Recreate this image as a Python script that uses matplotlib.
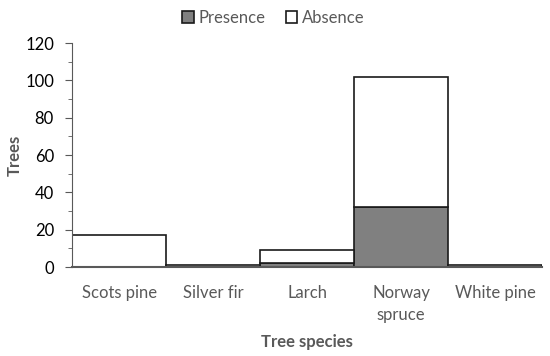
import matplotlib.pyplot as plt
import numpy as np
from matplotlib.ticker import MultipleLocator

species = ['Scots pine', 'Silver fir', 'Larch', 'Norway\nspruce', 'White pine']
presence = [0, 0, 2, 32, 0]
absence = [17, 1, 7, 70, 1]

plt.rcParams['font.family'] = ['Lato', 'DejaVu Sans']
grey = '#595959'

fig = plt.figure(figsize=(5.5, 3.56), dpi=100)
ax = fig.add_axes([0.131, 0.25, 0.855, 0.629])

x = np.arange(len(species))
ax.bar(x, presence, width=1.0, color='#808080', edgecolor='#1a1a1a', linewidth=1.2, label='Presence')
ax.bar(x, absence, width=1.0, bottom=presence, color='white', edgecolor='#1a1a1a', linewidth=1.2, label='Absence')

ax.set_xlim(-0.5, len(species) - 0.5)
ax.set_ylim(0, 120)
ax.yaxis.set_major_locator(MultipleLocator(20))
ax.yaxis.set_minor_locator(MultipleLocator(10))
ax.set_xticks(x)
ax.set_xticklabels(species, fontsize=12, color=grey, linespacing=1.45)
ax.tick_params(axis='x', length=0, pad=13)
ax.tick_params(axis='y', which='major', length=5, color=grey, labelsize=12, labelcolor='black', pad=8)
ax.tick_params(axis='y', which='minor', length=3, color=grey)

for s in ['top', 'right']:
    ax.spines[s].set_visible(False)
ax.spines['left'].set_color(grey)
ax.spines['bottom'].set_color(grey)
ax.spines['bottom'].set_linewidth(1.5)

ax.set_xlabel('Tree species', fontsize=12, fontweight='bold', color=grey, labelpad=8)
ax.set_ylabel('Trees', fontsize=12, fontweight='bold', color=grey, labelpad=2)

fig.legend(loc='upper center', bbox_to_anchor=(0.497, 1.015), ncol=2, frameon=False,
           fontsize=12, handlelength=0.7, handleheight=0.7, handletextpad=0.3,
           columnspacing=1.2, labelcolor=grey)

fig.savefig('out.png', dpi=100)
